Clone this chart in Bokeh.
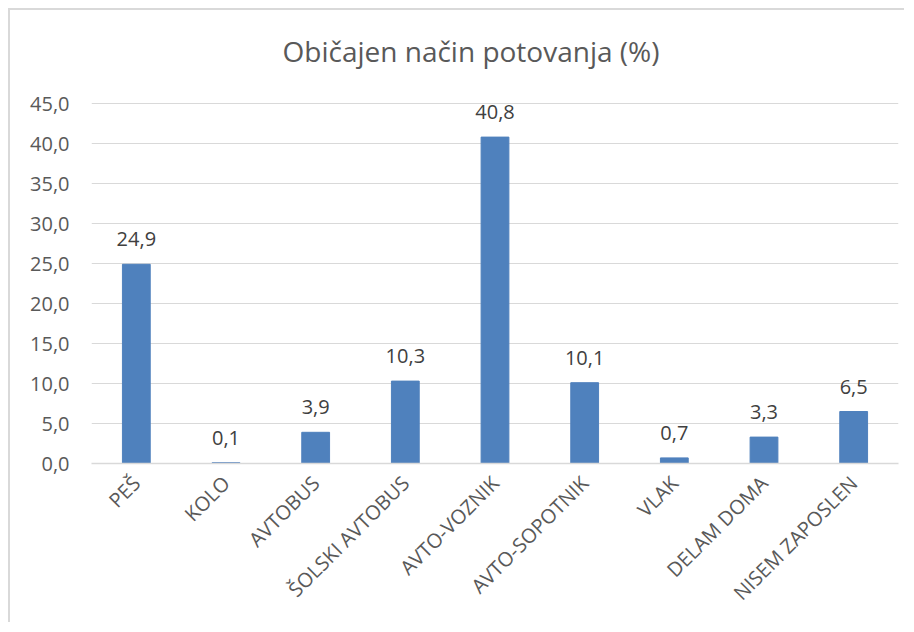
from bokeh.plotting import figure
from bokeh.models import FixedTicker, CustomJSTickFormatter, ColumnDataSource, Range1d, Label
from bokeh.core.properties import value
from bokeh.embed import file_html
from bokeh.resources import INLINE
import math

title_text = "Običajen način potovanja (%)"
categories = ["PEŠ", "KOLO", "AVTOBUS", "ŠOLSKI AVTOBUS", "AVTO-VOZNIK",
              "AVTO-SOPOTNIK", "VLAK", "DELAM DOMA", "NISEM ZAPOSLEN"]
values = [24.9, 0.1, 3.9, 10.3, 40.8, 10.1, 0.7, 3.3, 6.5]
y_ticks = [0, 5, 10, 15, 20, 25, 30, 35, 40, 45]

labels = [f"{v:.1f}".replace(".", ",") for v in values]
src = ColumnDataSource(dict(cat=categories, val=values, lab=labels))

FONT = "Open Sans"
# extra headroom above 45 holds the chart title inside the frame
p = figure(x_range=categories, y_range=Range1d(0, 56.625), width=896, height=614,
           output_backend="svg", toolbar_location=None,
           min_border_left=81, min_border_right=8, min_border_top=0, min_border_bottom=161)
p.styles = {"margin-left": "8px", "margin-top": "8px",
            "border-left": "2px solid #d9d9d9", "border-top": "2px solid #d9d9d9"}

title = Label(x=4.5, y=51.6, text=title_text, x_offset=-24,
              text_align="center", text_baseline="middle",
              text_font=FONT, text_font_size="28px", text_color="#595959")
p.add_layout(title)

p.vbar(x="cat", top="val", width=0.31, source=src, color="#4F81BD", line_color="#4F81BD")
p.text(x="cat", y="val", text="lab", source=src, y_offset=-18,
       text_align="center", text_baseline="bottom",
       text_font=value(FONT), text_font_size="20px", text_color="#404040")

p.outline_line_color = None
p.xgrid.grid_line_color = None
p.ygrid.grid_line_color = "#d9d9d9"
p.ygrid.grid_line_width = 1

p.yaxis.ticker = FixedTicker(ticks=y_ticks)
p.yaxis.formatter = CustomJSTickFormatter(code="return tick.toFixed(1).replace('.', ',');")
p.yaxis.axis_line_color = None
p.yaxis.major_tick_line_color = None
p.yaxis.minor_tick_line_color = None
p.yaxis.major_label_text_font = FONT
p.yaxis.major_label_text_font_size = "20px"
p.yaxis.major_label_text_color = "#595959"
p.yaxis.major_label_standoff = 16

p.xaxis.axis_line_color = "#d9d9d9"
p.xaxis.axis_line_width = 1.5
p.xaxis.major_tick_line_color = None
p.xaxis.minor_tick_line_color = None
p.xaxis.major_label_orientation = math.pi / 4
p.xaxis.major_label_text_font = FONT
p.xaxis.major_label_text_font_size = "20px"
p.xaxis.major_label_text_color = "#595959"
p.xaxis.major_label_standoff = 10
p.x_range.range_padding = 0

open("out.html", "w").write(file_html(p, INLINE))
